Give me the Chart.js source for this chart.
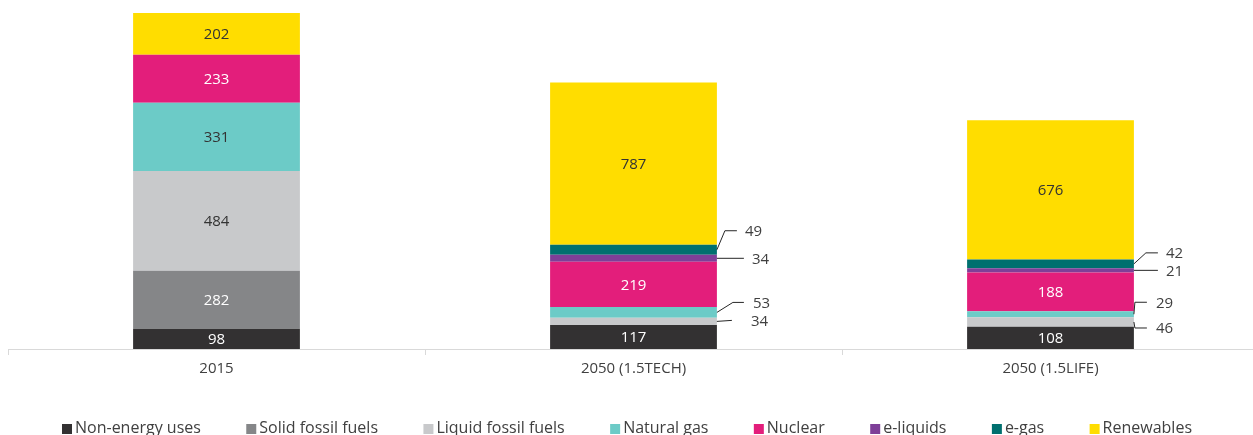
<!DOCTYPE html>
<html>
<head>
<meta charset="utf-8">
<style>
  html, body { margin: 0; padding: 0; background: #ffffff; overflow: hidden; }
</style>
</head>
<body>
<canvas id="energyChart" width="1259" height="435"></canvas>

<script src="https://cdn.jsdelivr.net/npm/chart.js@4.4.0/dist/chart.umd.min.js"></script>
<script>
    const categories = ['2015', '2050 (1.5TECH)', '2050 (1.5LIFE)'];

    const nonEnergy    = [98, 117, 108];
    const solidFossil  = [282, 0, 0];
    const liquidFossil = [484, 34, 46];
    const naturalGas   = [331, 53, 29];
    const nuclear      = [233, 219, 188];
    const eLiquids     = [0, 34, 21];
    const eGas         = [0, 49, 42];
    const renewables   = [202, 787, 676];

    const FONT = '"Open Sans", "Liberation Sans", sans-serif';
    const TEXT = '#404040';

    // leader lines for the thin segments, key = dataset-category
    // dy: text offset from segment middle, elbow/end/text: x offsets from bar edge
    const callouts = {
        '2-1': { dy: -1,  elbow: 15, end: 15, text: 34 },
        '3-1': { dy: -10, elbow: 16, end: 27, text: 36 },
        '5-1': { dy: 0,   elbow: 0,  end: 27, text: 35 },
        '6-1': { dy: -19, elbow: 8,  end: 20, text: 28 },
        '2-2': { dy: 6,   elbow: 1,  end: 13, text: 22 },
        '3-2': { dy: -12, elbow: 1,  end: 13, text: 22 },
        '5-2': { dy: 0,   elbow: 0,  end: 24, text: 32 },
        '6-2': { dy: -11, elbow: 12, end: 24, text: 32 }
    };

    const valueLabels = {
        id: 'valueLabels',
        afterDatasetsDraw(chart) {
            const ctx = chart.ctx;
            ctx.save();
            ctx.font = '15px ' + FONT;
            ctx.textBaseline = 'middle';
            chart.data.datasets.forEach((ds, di) => {
                const meta = chart.getDatasetMeta(di);
                meta.data.forEach((bar, i) => {
                    const v = ds.data[i];
                    if (!v) return;
                    const cy = (bar.y + bar.base) / 2;
                    if (v >= 60) {
                        ctx.fillStyle = ds.labelColor;
                        ctx.textAlign = 'center';
                        ctx.fillText(v, bar.x, cy + 1);
                        return;
                    }
                    const c = callouts[di + '-' + i];
                    if (!c) return;
                    const x0 = bar.x + bar.width / 2;
                    const ty = cy + c.dy;
                    ctx.strokeStyle = '#262626';
                    ctx.lineWidth = 1;
                    ctx.beginPath();
                    ctx.moveTo(x0, cy);
                    ctx.lineTo(x0 + c.elbow, ty);
                    ctx.lineTo(x0 + c.end, ty);
                    ctx.stroke();
                    ctx.fillStyle = TEXT;
                    ctx.textAlign = 'left';
                    ctx.fillText(v, x0 + c.text, ty + 1);
                });
            });
            ctx.restore();
        }
    };

    // legend spread along the bottom edge
    const bottomLegend = {
        id: 'bottomLegend',
        afterDraw(chart, args, opts) {
            const ctx = chart.ctx;
            ctx.save();
            ctx.font = opts.size + 'px ' + FONT;
            ctx.textBaseline = 'middle';
            const items = chart.data.datasets.map(ds => ({
                text: ds.label,
                color: ds.backgroundColor,
                w: opts.box + opts.boxGap + ctx.measureText(ds.label).width
            }));
            const sum = items.reduce((a, it) => a + it.w, 0);
            const gap = (opts.span - sum) / (items.length - 1);
            let x = opts.left;
            const y = chart.height - opts.bottom;
            items.forEach(it => {
                ctx.fillStyle = it.color;
                ctx.fillRect(x, y - opts.box / 2 + 1, opts.box, opts.box);
                ctx.fillStyle = TEXT;
                ctx.textAlign = 'left';
                ctx.fillText(it.text, x + opts.box + opts.boxGap, y);
                x += it.w + gap;
            });
            ctx.restore();
        }
    };

    const data = {
        labels: categories,
        datasets: [
            { label: 'Non-energy uses',     data: nonEnergy,    backgroundColor: '#333132', labelColor: '#ffffff' },
            { label: 'Solid fossil fuels',  data: solidFossil,  backgroundColor: '#858688', labelColor: '#ffffff' },
            { label: 'Liquid fossil fuels', data: liquidFossil, backgroundColor: '#c8c9cb', labelColor: '#333333' },
            { label: 'Natural gas',         data: naturalGas,   backgroundColor: '#6ccbc7', labelColor: '#333333' },
            { label: 'Nuclear',             data: nuclear,      backgroundColor: '#e31e7b', labelColor: '#ffffff' },
            { label: 'e-liquids',           data: eLiquids,     backgroundColor: '#7e3f98', labelColor: '#ffffff' },
            { label: 'e-gas',               data: eGas,         backgroundColor: '#00706f', labelColor: '#ffffff' },
            { label: 'Renewables',          data: renewables,   backgroundColor: '#ffdd00', labelColor: '#333333' }
        ]
    };

    const config = {
        type: 'bar',
        data: data,
        options: {
            responsive: false,
            animation: false,
            devicePixelRatio: 1,
            layout: { padding: { left: 8, right: 0, top: 0, bottom: 52 } },
            datasets: {
                bar: { categoryPercentage: 1, barPercentage: 0.4, borderWidth: 0 }
            },
            scales: {
                x: {
                    stacked: true,
                    grid: { offset: true, drawOnChartArea: false, tickLength: 6, color: '#d9d9d9' },
                    border: { color: '#d9d9d9' },
                    ticks: { color: TEXT, font: { family: FONT, size: 15 }, padding: 5 }
                },
                y: {
                    stacked: true,
                    display: false,
                    min: 0,
                    max: 1693
                }
            },
            plugins: {
                legend: { display: false },
                tooltip: { enabled: false },
                bottomLegend: { size: 16, box: 10, boxGap: 3, span: 1130, left: 62, bottom: 7 }
            }
        },
        plugins: [valueLabels, bottomLegend]
    };

    const myChart = new Chart(document.getElementById('energyChart'), config);
</script>
</body>
</html>
